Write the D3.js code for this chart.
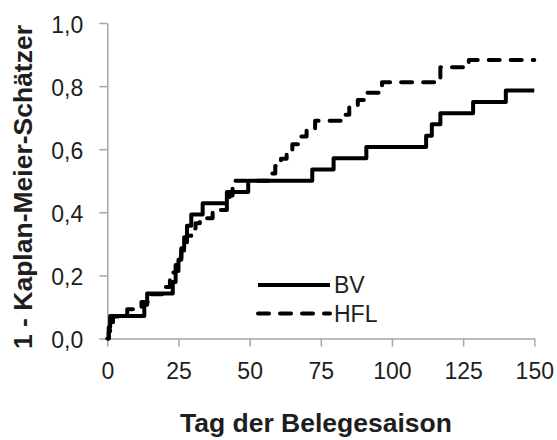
<!DOCTYPE html>
<html>
<head>
<meta charset="utf-8">
<script src="https://cdn.jsdelivr.net/npm/d3@7"></script>
<style>
  html, body { margin: 0; padding: 0; background: #fff; }
  svg { display: block; font-family: "Liberation Sans", Arial, sans-serif; }
</style>
</head>
<body>
<svg id="chart" width="557" height="440"></svg>
<script>
// Kaplan-Meier step curves: [day of event, cumulative value after the event]
const bvSteps = [
  [0, 0], [0.5, 0.036], [1, 0.071], [13, 0.107], [14, 0.143],
  [23, 0.179], [24, 0.214], [25, 0.25], [26, 0.286], [27, 0.321], [28, 0.357],
  [29.5, 0.393], [33.5, 0.429], [42, 0.464], [49.5, 0.5], [72, 0.536],
  [79.5, 0.571], [91, 0.607], [112, 0.643], [114, 0.679], [117, 0.714],
  [128.5, 0.75], [140, 0.786], [150, 0.786]
];
const hflSteps = [
  [0, 0], [0.5, 0.023], [1, 0.047], [2, 0.07], [7, 0.093], [12, 0.116],
  [15, 0.14], [20, 0.163], [22, 0.186], [23, 0.209], [24, 0.233], [25, 0.256],
  [26, 0.279], [27, 0.302], [28, 0.326], [29.5, 0.349], [31, 0.365], [32.5, 0.381],
  [37, 0.407], [42, 0.43], [43, 0.453], [44, 0.477], [45, 0.5], [57, 0.523],
  [59, 0.547], [61, 0.57], [63, 0.593], [65, 0.616], [67.5, 0.64], [70, 0.663],
  [73, 0.69], [82, 0.709], [85, 0.733], [88, 0.756], [91, 0.779], [96.5, 0.812],
  [117, 0.86], [127, 0.883], [150, 0.883]
];
const seriesNames = ["BV", "HFL"];
const xTicks = [0, 25, 50, 75, 100, 125, 150];
const yTicks = [0, 0.2, 0.4, 0.6, 0.8, 1.0];
const xTitle = "Tag der Belegesaison";
const yTitle = "1 - Kaplan-Meier-Schätzer";

const svg = d3.select("#chart");
const x = d3.scaleLinear().domain([0, 150]).range([107.3, 534.3]);
const y = d3.scaleLinear().domain([0, 1]).range([338.5, 23]);

const axisColor = "#a6a6a6";
const textColor = "#1e1e1e";
const fmtComma = d => d.toFixed(1).replace(".", ",");

// x axis
const gx = svg.append("g")
  .attr("transform", `translate(0,${y(0)})`)
  .call(d3.axisBottom(x).tickValues(xTicks).tickSize(8).tickSizeOuter(0).tickPadding(16));
gx.select(".domain").attr("stroke", axisColor).attr("stroke-width", 1.5);
gx.selectAll(".tick line").attr("stroke", axisColor).attr("stroke-width", 1.5);
gx.selectAll(".tick text").attr("fill", textColor).attr("font-size", 23)
  .attr("font-family", "Liberation Sans, Arial, sans-serif");

// y axis
const gy = svg.append("g")
  .attr("transform", `translate(${x(0)},0)`)
  .call(d3.axisLeft(y).tickValues(yTicks).tickFormat(fmtComma).tickSize(8).tickSizeOuter(0).tickPadding(16));
gy.select(".domain").attr("stroke", axisColor).attr("stroke-width", 1.5);
gy.selectAll(".tick line").attr("stroke", axisColor).attr("stroke-width", 1.5);
gy.selectAll(".tick text").attr("fill", textColor).attr("font-size", 23)
  .attr("font-family", "Liberation Sans, Arial, sans-serif").attr("dy", "0.4em");

// step curves
const line = d3.line()
  .x(d => x(d[0]))
  .y(d => y(d[1]))
  .curve(d3.curveStepAfter);

svg.append("path")
  .datum(bvSteps)
  .attr("d", line)
  .attr("fill", "none")
  .attr("stroke", "#000")
  .attr("stroke-width", 4)
  .attr("stroke-linejoin", "round");

svg.append("path")
  .datum(hflSteps)
  .attr("d", line)
  .attr("fill", "none")
  .attr("stroke", "#000")
  .attr("stroke-width", 4)
  .attr("stroke-linecap", "round")
  .attr("stroke-linejoin", "round")
  .attr("stroke-dasharray", "11,11");

// legend
const legend = svg.append("g").attr("transform", "translate(258,285)");
seriesNames.forEach((name, i) => {
  const row = legend.append("g").attr("transform", `translate(0,${i * 28.5})`);
  row.append("line")
    .attr("x1", 0).attr("x2", 72).attr("y1", 0).attr("y2", 0)
    .attr("stroke", "#000").attr("stroke-width", 4)
    .attr("stroke-linecap", i === 1 ? "round" : "butt")
    .attr("stroke-dasharray", i === 1 ? "11,11" : null);
  row.append("text")
    .attr("x", 76).attr("y", 8)
    .attr("font-size", 23).attr("fill", textColor)
    .text(name);
});

// axis titles
svg.append("text")
  .attr("x", 316).attr("y", 432)
  .attr("text-anchor", "middle")
  .attr("font-size", 26.5).attr("font-weight", "bold").attr("fill", textColor)
  .text(xTitle);

svg.append("text")
  .attr("transform", "translate(32,187) rotate(-90)")
  .attr("text-anchor", "middle")
  .attr("font-size", 26.5).attr("font-weight", "bold").attr("fill", textColor)
  .text(yTitle);
</script>
</body>
</html>
